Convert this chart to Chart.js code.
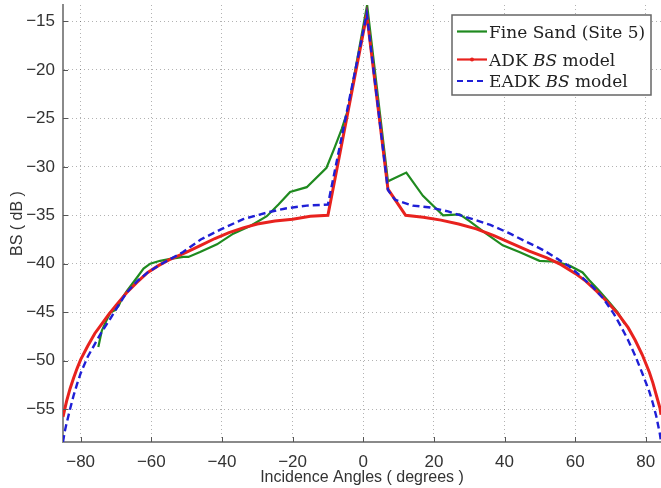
<!DOCTYPE html>
<html>
<head>
<meta charset="utf-8">
<script src="https://cdn.jsdelivr.net/npm/chart.js@4/dist/chart.umd.min.js"></script>
<style>
  body { margin: 0; background: #fff; }
  #wrap { width: 661px; height: 488px; }
</style>
</head>
<body>
<div id="wrap"><canvas id="bsChart" width="661" height="488"></canvas></div>
<script>
// measured backscatter, fine sand site 5
const sandAngles = [-75, -74, -72.5, -71.5, -70.2, -69.2, -68.3, -66.9, -64, -62.2, -60.3, -57.5, -54.6, -50.9, -49.5, -46.2,
  -41.4, -36.8, -32, -27.3, -24, -20.7, -16, -10.4, -8.3, -6.1, -4.3, 1.1, 7, 12.2, 16.9, 22.6, 27.3, 30.1, 34.8, 39.5,
  44.2, 49.9, 54.6, 58.4, 62.1, 64, 66.8, 69.7, 72, 74];
const sandBS = [-48.6, -46.9, -45.7, -45.0, -44.8, -44.3, -43.6, -42.8, -41.4, -40.5, -40.0, -39.7, -39.5, -39.3, -39.3, -38.8,
  -38.0, -36.9, -36.1, -35.1, -33.9, -32.6, -32.1, -30.1, -28.2, -26.1, -24.1, -13.3, -31.5, -30.6, -33.0, -35.0, -34.9, -35.6, -36.9, -38.1,
  -38.8, -39.7, -39.8, -40.2, -40.9, -41.7, -42.8, -44.0, -45.0, -46.2];

// ADK model
const adkAngles = [-85, -84.5, -84, -83, -82, -81, -80, -78, -76, -74, -72, -70, -67, -64, -61, -58, -55, -50, -46, -42, -38, -34,
  -30, -25, -20, -15, -10, 1, 7, 12, 17, 22, 27, 32, 37, 42, 47, 52, 56, 60, 63, 66, 69, 72, 75, 77, 79, 81, 82, 83, 84, 84.3];
const adkBS = [-55.8, -55.0, -54.2, -52.9, -51.8, -50.8, -49.9, -48.5, -47.2, -46.2, -45.2, -44.3, -43.0, -41.9, -40.9, -40.2, -39.6, -38.8, -38.1, -37.4, -36.8, -36.3,
  -35.9, -35.6, -35.4, -35.1, -35.0, -14.3, -32.3, -35.0, -35.2, -35.5, -35.9, -36.4, -37.1, -37.9, -38.7, -39.4, -40.1, -41.0, -41.8, -42.8, -43.9, -45.1, -46.6, -47.9, -49.4, -51.2, -52.3, -53.6, -54.9, -55.6];

// EADK model
const eadkAngles = [-85, -84.5, -84, -83, -82, -81, -80, -78, -76, -74, -72, -70, -67, -64, -61, -58, -55, -51, -46, -40, -34, -27,
  -22, -16, -10, 1, 7, 9, 14, 19, 24, 31, 36, 41, 46, 51, 55, 58, 61, 65, 68, 71, 73, 75, 77, 79, 81, 82, 83, 84, 84.3];
const eadkBS = [-58.4, -57.3, -56.5, -55.0, -53.6, -52.4, -51.3, -49.6, -48.3, -47.0, -45.9, -44.7, -43.0, -41.8, -40.9, -40.2, -39.6, -38.8, -37.5, -36.4, -35.4, -34.7,
  -34.3, -34.0, -33.9, -14.2, -32.4, -33.4, -34.0, -34.2, -34.6, -35.4, -36.0, -36.8, -37.7, -38.6, -39.5, -40.2, -41.1, -42.4, -43.6, -45.2, -46.5, -47.9, -49.5, -51.3, -53.2, -54.4, -55.8, -57.6, -58.4];

const xTicks = [-80, -60, -40, -20, 0, 20, 40, 60, 80];
const yTicks = [-55, -50, -45, -40, -35, -30, -25, -20, -15];

const legendItems = [
  { parts: [['Fine Sand (Site 5)', false]], color: '#1f8a1f', dash: [], dot: false },
  { parts: [['ADK ', false], ['BS', true], [' model', false]], color: '#e8221e', dash: [], dot: true },
  { parts: [['EADK ', false], ['BS', true], [' model', false]], color: '#1f1fd6', dash: [6, 4], dot: false }
];

const toPoints = (xs, ys) => xs.map((x, i) => ({ x: x, y: ys[i] }));
const minusLabel = v => (v < 0 ? '\u2212' + Math.abs(v) : String(v));

// no extra room for edge labels, the plot box runs to the canvas edge
const noEdgePadding = s => {
  s.paddingTop = 0; s.paddingBottom = 0;
  s.paddingLeft = 0; s.paddingRight = 0;
};

// small inward tick marks, matlab style
const innerTicks = {
  id: 'innerTicks',
  afterDraw(chart) {
    const { ctx, chartArea, scales } = chart;
    ctx.save();
    ctx.strokeStyle = '#555';
    ctx.lineWidth = 1;
    ctx.beginPath();
    xTicks.forEach(v => {
      const px = Math.round(scales.x.getPixelForValue(v)) + 0.5;
      ctx.moveTo(px, chartArea.bottom);
      ctx.lineTo(px, chartArea.bottom - 5);
    });
    yTicks.forEach(v => {
      const py = Math.round(scales.y.getPixelForValue(v)) + 0.5;
      ctx.moveTo(chartArea.left, py);
      ctx.lineTo(chartArea.left + 5, py);
    });
    ctx.stroke();
    ctx.restore();
  }
};

const boxLegend = {
  id: 'boxLegend',
  afterDraw(chart) {
    const ctx = chart.ctx;
    const bx = 452, by = 15, bw = 199, bh = 80;
    const rows = [31.5, 59.5, 81];
    ctx.save();
    ctx.fillStyle = '#fff';
    ctx.fillRect(bx, by, bw, bh);
    ctx.strokeStyle = '#666';
    ctx.lineWidth = 1.5;
    ctx.strokeRect(bx, by, bw, bh);
    legendItems.forEach((item, i) => {
      const y = rows[i];
      ctx.strokeStyle = item.color;
      ctx.lineWidth = 2.2;
      ctx.setLineDash(item.dash);
      ctx.beginPath();
      ctx.moveTo(457, y);
      ctx.lineTo(487, y);
      ctx.stroke();
      ctx.setLineDash([]);
      if (item.dot) {
        ctx.fillStyle = item.color;
        ctx.beginPath();
        ctx.arc(472, y, 2, 0, Math.PI * 2);
        ctx.fill();
      }
      let tx = 489;
      ctx.fillStyle = '#222';
      ctx.textBaseline = 'alphabetic';
      item.parts.forEach(([txt, italic]) => {
        ctx.font = (italic ? 'italic ' : '') + '17px "DejaVu Serif"';
        ctx.fillText(txt, tx, y + 6);
        tx += ctx.measureText(txt).width;
      });
    });
    ctx.restore();
  }
};

const ctx = document.getElementById('bsChart').getContext('2d');

new Chart(ctx, {
  type: 'line',
  data: {
    datasets: [{
      label: 'Fine Sand (Site 5)',
      data: toPoints(sandAngles, sandBS),
      borderColor: '#1f8a1f',
      borderWidth: 2.2,
      pointRadius: 0,
      order: 3
    }, {
      label: 'ADK BS model',
      data: toPoints(adkAngles, adkBS),
      borderColor: '#e8221e',
      borderWidth: 3,
      pointRadius: 0,
      order: 2
    }, {
      label: 'EADK BS model',
      data: toPoints(eadkAngles, eadkBS),
      borderColor: '#1f1fd6',
      borderWidth: 2.4,
      borderDash: [7, 4],
      pointRadius: 0,
      order: 1
    }]
  },
  options: {
    responsive: false,
    animation: false,
    devicePixelRatio: 1,
    layout: { padding: { top: 5, right: 0, left: 0, bottom: 0 } },
    plugins: {
      legend: { display: false },
      tooltip: { enabled: false }
    },
    scales: {
      x: {
        type: 'linear',
        min: -85,
        max: 84.3,
        afterBuildTicks: s => { s.ticks = xTicks.map(v => ({ value: v })); },
        afterFit: s => { s.height = 46; noEdgePadding(s); },
        grid: { color: 'rgba(0,0,0,0.3)', drawTicks: false, tickLength: 0 },
        border: { color: '#8a8a8a', width: 2, dash: [1, 3] },
        ticks: {
          padding: 10,
          color: '#333',
          font: { family: '"Liberation Sans", Arial, sans-serif', size: 17 },
          callback: v => minusLabel(v)
        },
        title: {
          display: true,
          text: 'Incidence Angles ( degrees )',
          color: '#333',
          font: { family: '"Liberation Sans", Arial, sans-serif', size: 16 },
          padding: { top: 0, bottom: 1 }
        }
      },
      y: {
        min: -58.4,
        max: -13.3,
        afterBuildTicks: s => { s.ticks = yTicks.map(v => ({ value: v })); },
        afterFit: s => { s.width = 63; noEdgePadding(s); },
        grid: { color: 'rgba(0,0,0,0.3)', drawTicks: false, tickLength: 0 },
        border: { color: '#8a8a8a', width: 2, dash: [1, 3] },
        ticks: {
          padding: 8,
          color: '#333',
          font: { family: '"Liberation Sans", Arial, sans-serif', size: 17 },
          callback: v => minusLabel(v)
        },
        title: {
          display: true,
          text: 'BS ( dB )',
          color: '#333',
          font: { family: '"Liberation Sans", Arial, sans-serif', size: 16 },
          padding: { top: 8, bottom: 0 }
        }
      }
    }
  },
  plugins: [innerTicks, boxLegend]
});
</script>
</body>
</html>
